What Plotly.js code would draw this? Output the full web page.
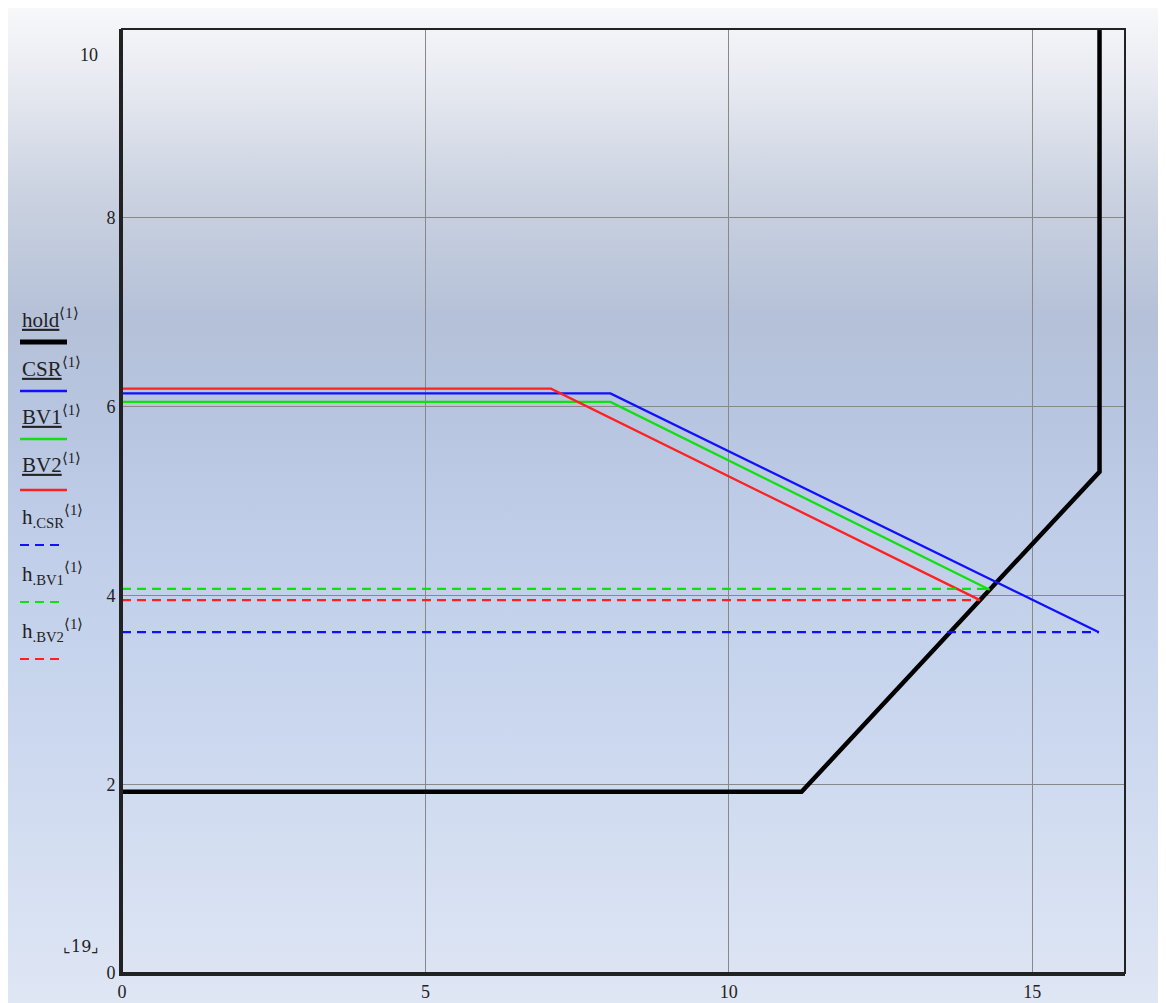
<!DOCTYPE html>
<html>
<head>
<meta charset="utf-8">
<script src="https://cdn.plot.ly/plotly-3.0.1.min.js"></script>
<style>
  html, body { margin: 0; padding: 0; background: #ffffff; width: 1166px; height: 1003px; overflow: hidden; }
  #bg { position: absolute; left: 8px; top: 8px; width: 1150px; height: 995px;
        background: linear-gradient(to bottom, #f7f8fa 0%, #e6e9f0 8%, #ccd3e1 18%, #b5c1d8 31%, #b7c5e0 41%, #bfcde8 52%, #c9d6ee 70%, #d6e0f2 88%, #dfe6f4 100%); }
  #chart { position: absolute; left: 0; top: 0; width: 1166px; height: 1003px; }
</style>
</head>
<body>
<div id="bg"></div>
<div id="chart"></div>
<script>
// ---- data ----
const holdX = [0, 11.2, 16.11, 16.11];
const holdY = [1.92, 1.92, 5.31, 10.2];

const csrX = [0, 8.05, 16.1];
const csrY = [6.14, 6.14, 3.61];

const bv1X = [0, 8.05, 14.3];
const bv1Y = [6.05, 6.05, 4.06];

const bv2X = [0, 7.07, 14.14];
const bv2Y = [6.19, 6.19, 3.95];

const hCsrX = [0, 16.1];
const hCsrY = [3.61, 3.61];

const hBv1X = [0, 14.28];
const hBv1Y = [4.07, 4.07];

const hBv2X = [0, 14.14];
const hBv2Y = [3.95, 3.95];

const xTickVals = [0, 5, 10, 15];
const xTickText = ["0", "5", "10", "15"];
const yTickVals = [0, 2, 4, 6, 8];
const yTickText = ["0", "2", "4", "6", "8"];
const yTopLabel = "10";
const yLowLabel = "⌞19⌟";

const legendLabels = [
  "<u>hold</u><sup>⟨1⟩</sup>",
  "<u>CSR</u><sup>⟨1⟩</sup>",
  "<u>BV1</u><sup>⟨1⟩</sup>",
  "<u>BV2</u><sup>⟨1⟩</sup>",
  "h<sub>.CSR</sub><sup>⟨1⟩</sup>",
  "h<sub>.BV1</sub><sup>⟨1⟩</sup>",
  "h<sub>.BV2</sub><sup>⟨1⟩</sup>"
];

// ---- styles ----
const BLUE = "#1010ff", GREEN = "#10e010", RED = "#ff2020", BLACK = "#000000";
const DASH = "9px,6px";
const serif = "Liberation Serif, Times New Roman, serif";

const traces = [
  {x: holdX, y: holdY, mode: "lines", line: {color: BLACK, width: 4.5}},
  {x: csrX, y: csrY, mode: "lines", line: {color: BLUE, width: 2.3}},
  {x: bv1X, y: bv1Y, mode: "lines", line: {color: GREEN, width: 2.3}},
  {x: bv2X, y: bv2Y, mode: "lines", line: {color: RED, width: 2.3}},
  {x: hCsrX, y: hCsrY, mode: "lines", line: {color: BLUE, width: 2.2, dash: DASH}},
  {x: hBv1X, y: hBv1Y, mode: "lines", line: {color: GREEN, width: 2.2, dash: DASH}},
  {x: hBv2X, y: hBv2Y, mode: "lines", line: {color: RED, width: 2.2, dash: DASH}}
];

const W = 1166, H = 1003;
const M = {l: 122, r: 41, t: 29, b: 30};
const plotW = W - M.l - M.r, plotH = H - M.t - M.b;
// pixel -> paper helpers for legend placement
const px = v => (v - M.l) / plotW;
const py = v => 1 - (v - M.t) / plotH;

// legend layout (pixel positions)
const legendTextY = [318, 367, 415, 463, 516, 573, 630];
const legendLineY = [342, 391, 439, 490, 545, 602, 659];
const legendColors = [BLACK, BLUE, GREEN, RED, BLUE, GREEN, RED];
const legendWidths = [5, 2.3, 2.3, 2.3, 2.2, 2.2, 2.2];
const legendDash = ["solid", "solid", "solid", "solid", DASH, DASH, DASH];
const legendEnd = [67, 67, 67, 67, 63, 63, 63];

const annotations = legendLabels.map((t, i) => ({
  xref: "paper", yref: "paper", x: px(20), y: py(legendTextY[i]),
  xanchor: "left", yanchor: "middle", showarrow: false, text: t,
  font: {family: serif, size: 21, color: "#222"}
}));
annotations.push({xref: "paper", yref: "paper", x: px(100), y: py(55), xanchor: "right", yanchor: "middle",
  showarrow: false, text: yTopLabel, font: {family: serif, size: 18, color: "#222"}});
annotations.push({xref: "paper", yref: "paper", x: px(101), y: py(946), xanchor: "right", yanchor: "middle",
  showarrow: false, text: yLowLabel, font: {family: "DejaVu Serif, serif", size: 16, color: "#222"}});

const shapes = legendLabels.map((t, i) => ({
  type: "line", xref: "paper", yref: "paper",
  x0: px(20), x1: px(legendEnd[i]), y0: py(legendLineY[i]), y1: py(legendLineY[i]),
  line: {color: legendColors[i], width: legendWidths[i], dash: legendDash[i]}
}));
// plot frame
shapes.push({type: "rect", xref: "paper", yref: "paper", x0: 0, x1: 1, y0: 0, y1: 1,
  line: {color: "#222", width: 2}, layer: "above"});

const layout = {
  width: W, height: H,
  margin: M,
  paper_bgcolor: "rgba(0,0,0,0)",
  plot_bgcolor: "rgba(0,0,0,0)",
  showlegend: false,
  xaxis: {
    range: [0, 16.53], tickvals: xTickVals, ticktext: xTickText,
    showgrid: true, gridcolor: "#888888", gridwidth: 1.3,
    zeroline: false, showline: true, linecolor: "#222", linewidth: 3,
    ticks: "", tickfont: {family: serif, size: 18, color: "#222"}
  },
  yaxis: {
    range: [0, 10], tickvals: yTickVals, ticktext: yTickText,
    showgrid: true, gridcolor: "#888888", gridwidth: 1.3,
    zeroline: false, showline: true, linecolor: "#222", linewidth: 3,
    ticks: "", tickfont: {family: serif, size: 18, color: "#222"}
  },
  annotations: annotations,
  shapes: shapes
};

Plotly.newPlot("chart", traces, layout, {displayModeBar: false, staticPlot: true});
</script>
</body>
</html>
